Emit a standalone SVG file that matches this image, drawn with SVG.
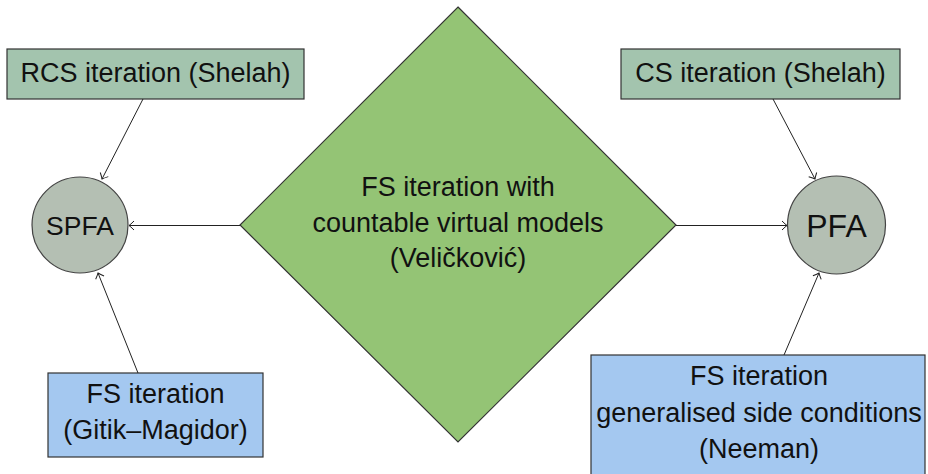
<svg xmlns="http://www.w3.org/2000/svg" width="928" height="474" viewBox="0 0 928 474">
<style>
text{font-family:"Liberation Sans",Arial,sans-serif;fill:#111;text-anchor:middle}
.box{stroke:#333;stroke-width:1.2}
.sg{fill:#a3c4ae}
.bl{fill:#a4c8f0}
.ci{fill:#b4bfb3;stroke:#444;stroke-width:1.2}
.dm{fill:#94c475;stroke:#333;stroke-width:1.2}
.t24{font-size:27px}
.con line{stroke:#222;stroke-width:1;fill:none;marker-end:url(#to)}
</style>
<defs>
<marker id="to" viewBox="-8 -6 10 12" refX="0" refY="0" markerWidth="10" markerHeight="12" markerUnits="userSpaceOnUse" orient="auto">
<path d="M-5,-4.5 Q-1.5,-1 0,0 Q-1.5,1 -5,4.5" fill="none" stroke="#222" stroke-width="1"/>
</marker>
</defs>
<rect width="928" height="474" fill="#fff"/>
<g id="fs-virtual">
<polygon class="dm" points="458,7 676,225 458,442 240,225"/>
<text class="t24" x="458" y="196">FS iteration with</text>
<text class="t24" x="458" y="232">countable virtual models</text>
<text class="t24" x="458" y="267">(Veličković)</text>
</g>
<g id="rcs">
<rect class="box sg" x="7" y="49" width="297" height="50"/>
<text class="t24" x="155.5" y="82">RCS iteration (Shelah)</text>
</g>
<g id="cs">
<rect class="box sg" x="621" y="49" width="279" height="50"/>
<text class="t24" x="760.5" y="82">CS iteration (Shelah)</text>
</g>
<g id="spfa">
<circle class="ci" cx="80" cy="225" r="48"/>
<text x="80" y="235" style="font-size:26.5px">SPFA</text>
</g>
<g id="pfa">
<circle class="ci" cx="836.5" cy="225" r="49"/>
<text x="836.5" y="237" style="font-size:32px">PFA</text>
</g>
<g id="gitik">
<rect class="box bl" x="48" y="373" width="215" height="84"/>
<text class="t24" x="155.5" y="403">FS iteration</text>
<text class="t24" x="155.5" y="439">(Gitik–Magidor)</text>
</g>
<g id="neeman">
<rect class="box bl" x="591" y="355" width="334" height="130"/>
<text class="t24" x="759" y="385">FS iteration</text>
<text class="t24" x="759" y="421.5">generalised side conditions</text>
<text class="t24" x="759" y="458">(Neeman)</text>
</g>
<g id="connectors" class="con">
<line x1="143" y1="99" x2="102" y2="179"/>
<line x1="240" y1="225.5" x2="129" y2="225.5"/>
<line x1="138" y1="373" x2="98" y2="273"/>
<line x1="773" y1="99" x2="815" y2="179"/>
<line x1="676" y1="225.5" x2="787" y2="225.5"/>
<line x1="784" y1="355" x2="819" y2="273"/>
</g>
</svg>
